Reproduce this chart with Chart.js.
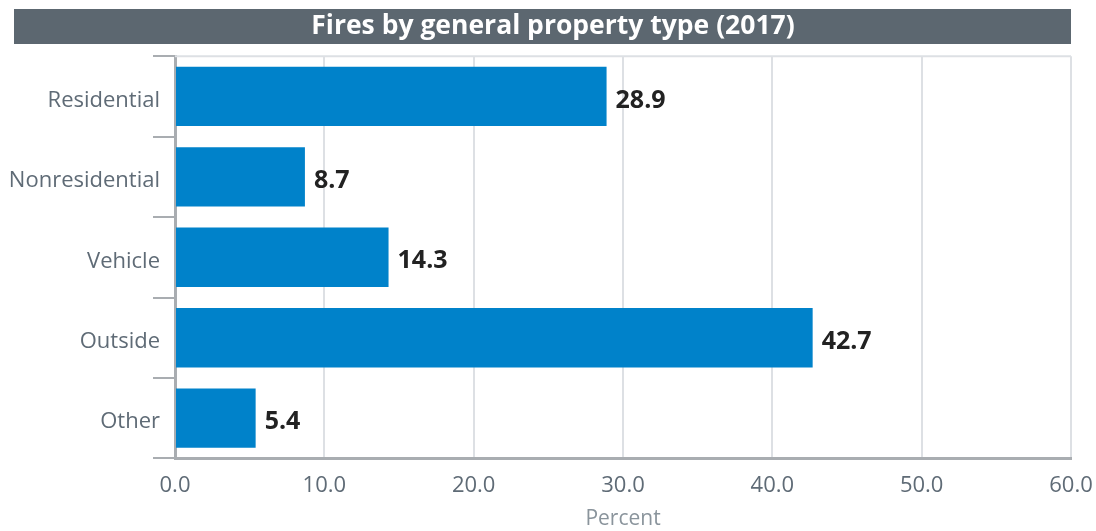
<!DOCTYPE html>
<html>
<head>
<meta charset="utf-8">
<script src="https://cdn.jsdelivr.net/npm/chart.js@4"></script>
<style>
html,body{margin:0;padding:0;background:#fff;}
#wrap{width:1096px;height:531px;}
</style>
</head>
<body>
<div id="wrap"><canvas id="c" width="1096" height="531"></canvas></div>
<script>
const categories = ["Residential", "Nonresidential", "Vehicle", "Outside", "Other"];
const percentValues = [28.9, 8.7, 14.3, 42.7, 5.4];
const xTickLabels = ["0.0", "10.0", "20.0", "30.0", "40.0", "50.0", "60.0"];
const chartTitle = "Fires by general property type (2017)";
const xAxisTitle = "Percent";

const titleBar = {
  id: 'titleBar',
  beforeDraw(chart) {
    const t = chart.titleBlock;
    const ctx = chart.ctx;
    ctx.save();
    ctx.fillStyle = '#5c6770';
    ctx.fillRect(14, t.top, chart.chartArea.right - 14, 35);
    ctx.restore();
  }
};
const frame = {
  id: 'frame',
  beforeDatasetsDraw(chart) {
    const a = chart.chartArea, ctx = chart.ctx;
    ctx.save();
    ctx.strokeStyle = '#dde0e4';
    ctx.lineWidth = 2;
    ctx.beginPath();
    ctx.moveTo(a.left, a.top);
    ctx.lineTo(a.right, a.top);
    ctx.stroke();
    ctx.restore();
  }
};
const valueLabels = {
  id: 'valueLabels',
  afterDatasetsDraw(chart) {
    const ctx = chart.ctx;
    const meta = chart.getDatasetMeta(0);
    ctx.save();
    ctx.font = 'bold 25px "Open Sans"';
    ctx.fillStyle = '#222222';
    ctx.textAlign = 'left';
    ctx.textBaseline = 'middle';
    meta.data.forEach((bar, i) => {
      ctx.fillText(percentValues[i].toFixed(1), bar.x + 9, bar.y + 4);
    });
    ctx.restore();
  }
};

new Chart(document.getElementById('c'), {
  type: 'bar',
  data: {
    labels: categories,
    datasets: [{
      data: percentValues,
      backgroundColor: '#0082ca',
      borderWidth: 0,
      barPercentage: 0.82,
      categoryPercentage: 0.9
    }]
  },
  plugins: [titleBar, frame, valueLabels],
  options: {
    indexAxis: 'y',
    responsive: false,
    animation: false,
    devicePixelRatio: 1,
    layout: { padding: { top: 9, right: 0, left: 10, bottom: 0 } },
    plugins: {
      legend: { display: false },
      tooltip: { enabled: false },
      title: {
        display: true,
        text: chartTitle,
        color: '#ffffff',
        font: { family: '"Open Sans"', size: 26.5, weight: 'bold', lineHeight: 1.1 },
        padding: { top: 3, bottom: 15 }
      }
    },
    scales: {
      x: {
        type: 'linear',
        min: 0,
        max: 60,
        afterFit(scale) { scale.paddingRight = 25; },
        ticks: {
          stepSize: 10,
          color: '#5f6b76',
          font: { family: '"Open Sans"', size: 22 },
          padding: 14,
          callback: (v, i) => xTickLabels[i]
        },
        grid: { color: '#dde0e4', lineWidth: 2, drawTicks: false },
        border: { color: '#a9adb1', width: 3 },
        title: {
          display: true,
          text: xAxisTitle,
          color: '#8a949c',
          font: { family: '"Open Sans"', size: 21 },
          padding: { top: -6, bottom: -1 }
        }
      },
      y: {
        afterFit(scale) { scale.width = 165; },
        ticks: {
          color: '#5f6b76',
          font: { family: '"Open Sans"', size: 22 },
          padding: -7,
          labelOffset: 4
        },
        grid: { drawOnChartArea: false, color: '#a9adb1', lineWidth: 2, tickLength: 22, offset: true },
        border: { color: '#a9adb1', width: 3 }
      }
    }
  }
});
</script>
</body>
</html>
